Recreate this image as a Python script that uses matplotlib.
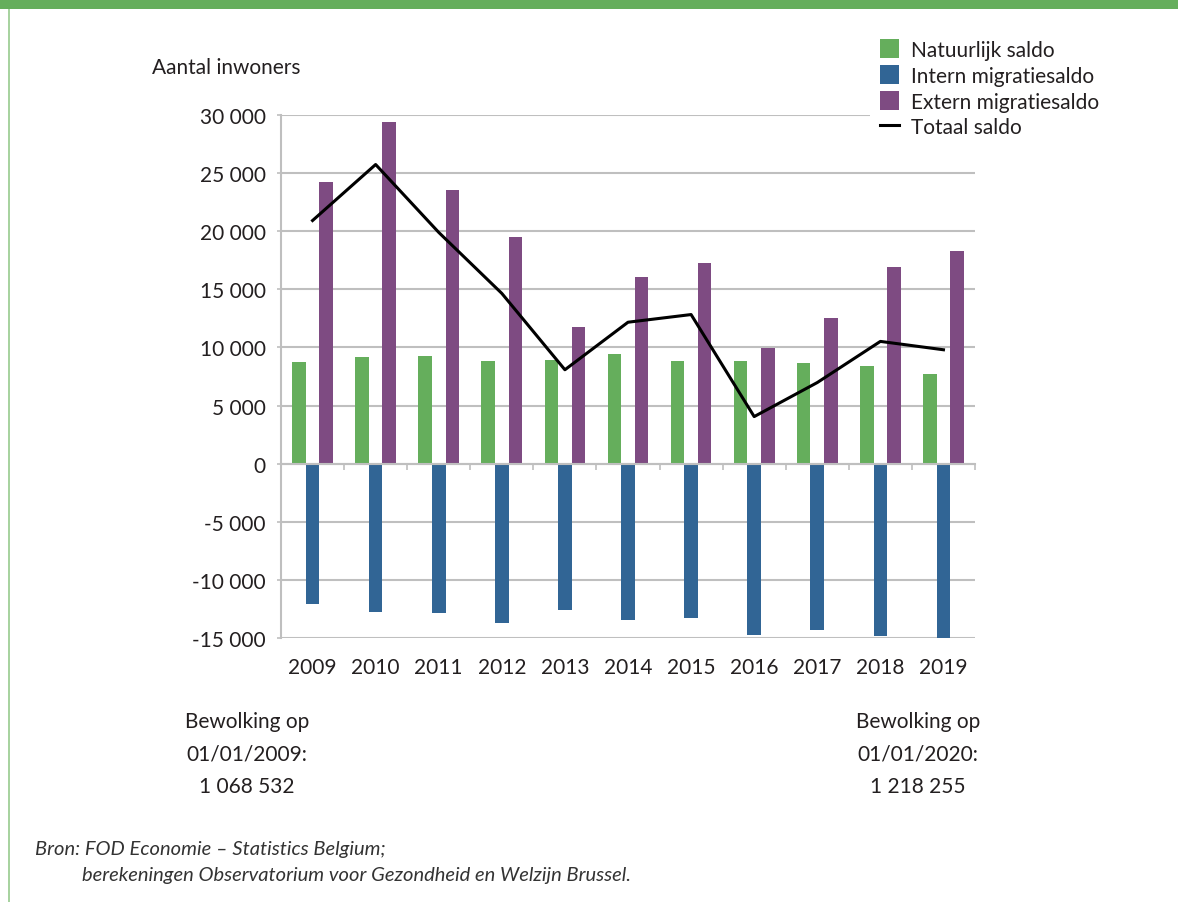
import numpy as np
import matplotlib
matplotlib.use("Agg")
import matplotlib.pyplot as plt
from matplotlib.patches import Patch, Rectangle
from matplotlib.lines import Line2D

years = ["2009", "2010", "2011", "2012", "2013", "2014", "2015", "2016", "2017", "2018", "2019"]
natuurlijk = [8740, 9170, 9230, 8850, 8910, 9460, 8850, 8800, 8650, 8420, 7710]
intern = [-12040, -12780, -12890, -13670, -12580, -13410, -13320, -14700, -14270, -14870, -15070]
extern = [24240, 29370, 23580, 19480, 11720, 16080, 17280, 9910, 12550, 16960, 18310]
totaal = [20920, 25740, 19900, 14650, 8080, 12170, 12830, 4050, 6980, 10520, 9800]
yticks = [-15000, -10000, -5000, 0, 5000, 10000, 15000, 20000, 25000, 30000]
series_names = ["Natuurlijk saldo", "Intern migratiesaldo", "Extern migratiesaldo", "Totaal saldo"]

GREEN = "#65ae5c"
BLUE = "#316595"
PURPLE = "#7e4b82"
GRID = "#bfbfbf"
TXT = "#231f20"
FS = 15

plt.rcParams['font.family'] = ['Lato', 'DejaVu Sans']

W, H = 1178, 903
fig = plt.figure(figsize=(W / 100, H / 100), dpi=100)

# decorative frame
fig.patches.append(Rectangle((0, 1 - 10 / H), 1, 10 / H, transform=fig.transFigure,
                             facecolor=GREEN, edgecolor='none', zorder=0))
fig.patches.append(Rectangle((8 / W, 0), 2 / W, 1 - 10 / H, transform=fig.transFigure,
                             facecolor="#a8d3a0", edgecolor='none', zorder=0))

ax = fig.add_axes([281 / W, 1 - 639 / H, (975 - 281) / W, (639 - 116) / H])
x = np.arange(len(years))
w = 0.215
ax.bar(x - w, natuurlijk, width=w, color=GREEN, zorder=3)
ax.bar(x, intern, width=w, color=BLUE, zorder=3)
ax.bar(x + w, extern, width=w, color=PURPLE, zorder=3)
ax.plot(x, totaal, color="black", lw=2.2, zorder=4)

ax.set_xlim(-0.5, len(years) - 0.5)
ax.set_ylim(-15000, 30000)
ax.set_yticks(yticks)
ax.set_yticklabels([("-" if v < 0 else "") + f"{abs(v):,}".replace(",", " ") for v in yticks])
ax.yaxis.grid(True, color=GRID, lw=1.5, zorder=0)
ax.set_axisbelow(True)

for s in ["top", "right"]:
    ax.spines[s].set_visible(False)
ax.spines["left"].set_color(GRID)
ax.spines["left"].set_linewidth(1.5)
ax.spines["bottom"].set_position(("data", 0))
ax.spines["bottom"].set_color(GRID)
ax.spines["bottom"].set_linewidth(1.5)
ax.spines["bottom"].set_zorder(5)

ax.set_xticks(x)
ax.set_xticklabels(years)
ax.set_xticks(np.arange(len(years) + 1) - 0.5, minor=True)
ax.tick_params(axis="x", which="major", length=0, pad=139, labelsize=FS, labelcolor=TXT)
ax.tick_params(axis="x", which="minor", length=4, width=1.2, color=GRID, direction="out")
ax.tick_params(axis="y", length=3, width=1.2, color=GRID, pad=8, labelsize=FS, labelcolor=TXT)

fig.text(152 / W, 1 - 68 / H, "Aantal inwoners", fontsize=FS, color=TXT, va="center", ha="left")

handles = [Patch(facecolor=GREEN), Patch(facecolor=BLUE), Patch(facecolor=PURPLE),
           Line2D([0], [0], color="black", lw=2.2)]
leg = fig.legend(handles, series_names, loc="upper left",
                 bbox_to_anchor=(870 / W, 1 - 30 / H), frameon=True, fontsize=FS,
                 handlelength=0.9, handleheight=1.0, handletextpad=0.55,
                 labelspacing=0.26, borderpad=0.5, borderaxespad=0)
leg.get_frame().set_facecolor("white")
leg.get_frame().set_edgecolor("none")
leg.get_frame().set_alpha(1)
for t in leg.get_texts():
    t.set_color(TXT)

left_lines = ["Bewolking op", "01/01/2009:", "1 068 532"]
right_lines = ["Bewolking op", "01/01/2020:", "1 218 255"]
for i, (a, b) in enumerate(zip(left_lines, right_lines)):
    yy = 1 - (722 + i * 32.5) / H
    fig.text(247 / W, yy, a, fontsize=FS, color=TXT, ha="center", va="center")
    fig.text(918 / W, yy, b, fontsize=FS, color=TXT, ha="center", va="center")

fig.text(35 / W, 1 - 850 / H, "Bron: FOD Economie \u2013 Statistics Belgium;", fontsize=14.5,
         style="italic", color="#333333", ha="left", va="center")
fig.text(82 / W, 1 - 876 / H, "berekeningen Observatorium voor Gezondheid en Welzijn Brussel.",
         fontsize=14.5, style="italic", color="#333333", ha="left", va="center")

fig.savefig("out.png", dpi=100, facecolor="white")
